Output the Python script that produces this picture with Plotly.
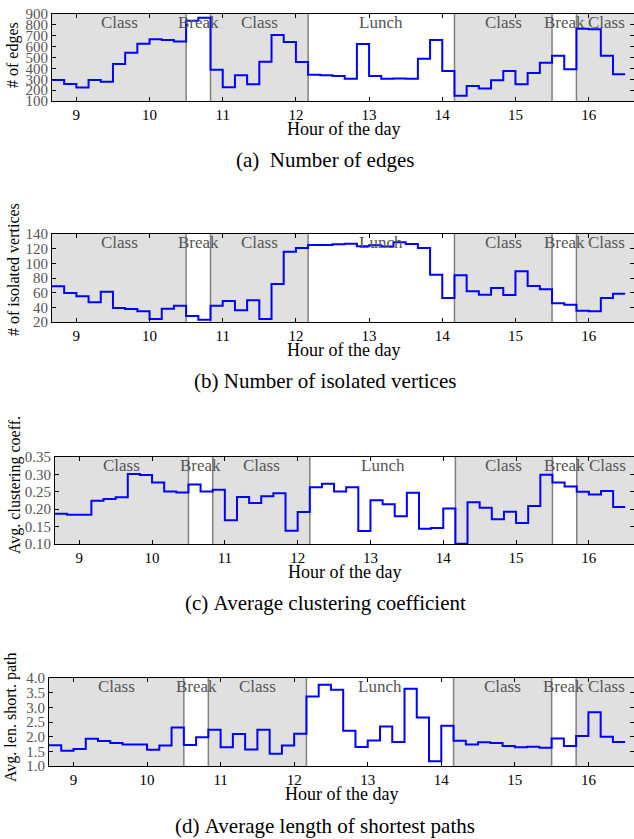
import plotly.graph_objects as go
from plotly.subplots import make_subplots

# 10-minute bins, start of each bin plus the end of the last one
times = ["8:40", "8:50", "9:00", "9:10", "9:20", "9:30", "9:40", "9:50",
         "10:00", "10:10", "10:20", "10:30", "10:40", "10:50",
         "11:00", "11:10", "11:20", "11:30", "11:40", "11:50",
         "12:00", "12:10", "12:20", "12:30", "12:40", "12:50",
         "13:00", "13:10", "13:20", "13:30", "13:40", "13:50",
         "14:00", "14:10", "14:20", "14:30", "14:40", "14:50",
         "15:00", "15:10", "15:20", "15:30", "15:40", "15:50",
         "16:00", "16:10", "16:20", "16:30"]

edges = [293, 256, 223, 293, 278, 440, 544, 627, 667, 661, 646, 839, 866,
         388, 226, 336, 253, 462, 707, 643, 459, 342, 336, 330, 305, 624,
         330, 305, 308, 305, 489, 661, 376, 149, 238, 216, 290, 376, 253,
         357, 452, 517, 391, 765, 759, 517, 345]

isolated = [68.6, 59.5, 55, 46.8, 61.4, 39, 37.7, 34.5, 24, 38.2, 42.3,
            28.2, 23.2, 42.3, 48.6, 35.9, 49.5, 24, 71.8, 115.9, 120.9,
            125, 125, 125.9, 126.8, 123.2, 124.5, 123, 128.6, 126.4, 120.9,
            84.5, 52.7, 83.6, 61.8, 57.3, 66.4, 56.8, 89.1, 69.1, 64.5,
            45.5, 43.6, 35.5, 34.5, 52.7, 58.6]

clustering = [0.187, 0.184, 0.184, 0.224, 0.229, 0.234, 0.301, 0.298,
              0.277, 0.251, 0.248, 0.271, 0.251, 0.256, 0.168, 0.235,
              0.218, 0.237, 0.246, 0.138, 0.192, 0.263, 0.273, 0.251,
              0.263, 0.137, 0.226, 0.214, 0.180, 0.247, 0.144, 0.146,
              0.202, 0.101, 0.220, 0.204, 0.171, 0.193, 0.160, 0.209,
              0.299, 0.277, 0.265, 0.250, 0.242, 0.252, 0.206]

short_path = [1.71, 1.52, 1.58, 1.93, 1.85, 1.78, 1.73, 1.73, 1.55, 1.70,
              2.31, 1.72, 1.98, 2.24, 1.64, 2.09, 1.56, 2.24, 1.42, 1.70,
              2.10, 3.37, 3.77, 3.60, 2.20, 1.65, 1.87, 2.35, 1.82, 3.63,
              2.65, 1.16, 2.37, 1.86, 1.73, 1.81, 1.78, 1.68, 1.64, 1.66,
              1.62, 1.94, 1.68, 2.02, 2.83, 2.00, 1.82]

periods = ["Class", "Break", "Class", "Lunch", "Class", "Break", "Class"]
period_bounds = ["8:40", "10:30", "10:50", "12:10", "14:10", "15:30",
                 "15:50", "16:40"]

y_titles = ["# of edges", "# of isolated vertices", "Avg. clustering coeff.",
            "Avg. len. short. path"]
captions = ["(a)\u00a0\u00a0Number of edges",
            "(b)\u00a0Number of isolated vertices",
            "(c)\u00a0Average clustering coefficient",
            "(d)\u00a0Average length of shortest paths"]
y_ticks = [[100, 200, 300, 400, 500, 600, 700, 800, 900],
           [20, 40, 60, 80, 100, 120, 140],
           [0.10, 0.15, 0.20, 0.25, 0.30, 0.35],
           [1.0, 1.5, 2.0, 2.5, 3.0, 3.5, 4.0]]


def to_hour(s):
    h, m = s.split(":")
    return int(h) + int(m) / 60


W, H = 634, 839
FONT = "Liberation Serif"
# pixel boxes of each panel: left, top, bottom
boxes = [(52, 14, 101), (52, 234, 322), (55, 457, 544), (49, 678, 766)]
caption_y = [160, 381, 603, 826]
ytitle_pos = [(13, 55), (13, 270), (15, 485), (11, 718)]
tick_fmt = ["d", "d", ".2f", ".1f"]

hours = [to_hour(t) for t in times]
bounds = [to_hour(t) for t in period_bounds]
series = [edges, isolated, clustering, short_path]

fig = make_subplots(rows=4, cols=1)

for r, vals in enumerate(series, start=1):
    fig.add_trace(go.Scatter(x=hours, y=vals + [vals[-1]], mode="lines",
                             line=dict(color="#0000ff", width=2, shape="hv"),
                             showlegend=False), row=r, col=1)
    left, top, bottom = boxes[r - 1]
    fig.update_xaxes(domain=[left / W, 1.0], range=[8.667, 16.62],
                     tickvals=list(range(9, 17)), row=r, col=1)
    fig.update_yaxes(domain=[1 - bottom / H, 1 - top / H],
                     range=[y_ticks[r - 1][0], y_ticks[r - 1][-1]],
                     tickvals=y_ticks[r - 1], tickformat=tick_fmt[r - 1],
                     tickfont=dict(color="#555555", size=15),
                     row=r, col=1)

    xref = "x" if r == 1 else "x%d" % r
    yref = "y" if r == 1 else "y%d" % r
    for k, name in enumerate(periods):
        x0, x1 = bounds[k], bounds[k + 1]
        if name == "Class":
            fig.add_shape(type="rect", xref=xref, yref=yref + " domain",
                          x0=x0, x1=x1, y0=0, y1=1, fillcolor="#e0e0e0",
                          line_width=0, layer="below")
        fig.add_annotation(x=(x0 + x1) / 2, y=1, xref=xref,
                           yref=yref + " domain", text=name, showarrow=False,
                           xanchor="center", yanchor="top", yshift=3,
                           font=dict(family=FONT, size=17, color="#555555"))
    for b in bounds[1:-1]:
        fig.add_shape(type="line", xref=xref, yref=yref + " domain",
                      x0=b, x1=b, y0=0, y1=1,
                      line=dict(color="#808080", width=1.5), layer="below")

    # axis titles and captions
    fig.add_annotation(x=(left + W) / 2 / W, y=1 - (bottom + 28) / H,
                       xref="paper", yref="paper", text="Hour of the day",
                       xanchor="center", yanchor="middle",
                       showarrow=False, font=dict(family=FONT, size=18))
    tx, ty = ytitle_pos[r - 1]
    fig.add_annotation(x=tx / W, y=1 - ty / H, xref="paper", yref="paper",
                       text=y_titles[r - 1], textangle=-90, showarrow=False,
                       xanchor="center", yanchor="middle",
                       font=dict(family=FONT, size=16))
    fig.add_annotation(x=325 / W, y=1 - caption_y[r - 1] / H, xref="paper",
                       yref="paper", text=captions[r - 1], showarrow=False,
                       xanchor="center", yanchor="middle",
                       font=dict(family=FONT, size=21))

fig.update_xaxes(showline=True, linecolor="black", linewidth=1, mirror="ticks",
                 ticks="inside", ticklen=4, tickcolor="black", showgrid=False,
                 zeroline=False, automargin=False,
                 tickfont=dict(size=15, color="black"))
fig.update_yaxes(showline=True, linecolor="black", linewidth=1, mirror="ticks",
                 ticks="inside", ticklen=4, tickcolor="black", showgrid=False,
                 zeroline=False, automargin=False)

fig.update_layout(template="none", width=W, height=H, autosize=False,
                  margin=dict(l=0, r=0, t=0, b=0, autoexpand=False),
                  plot_bgcolor="white", paper_bgcolor="white",
                  font=dict(family=FONT, color="black"))

fig.write_html("out.html", config={"displayModeBar": False},
               post_script="document.body.style.margin='0';"
                           "document.body.style.overflow='hidden';")
